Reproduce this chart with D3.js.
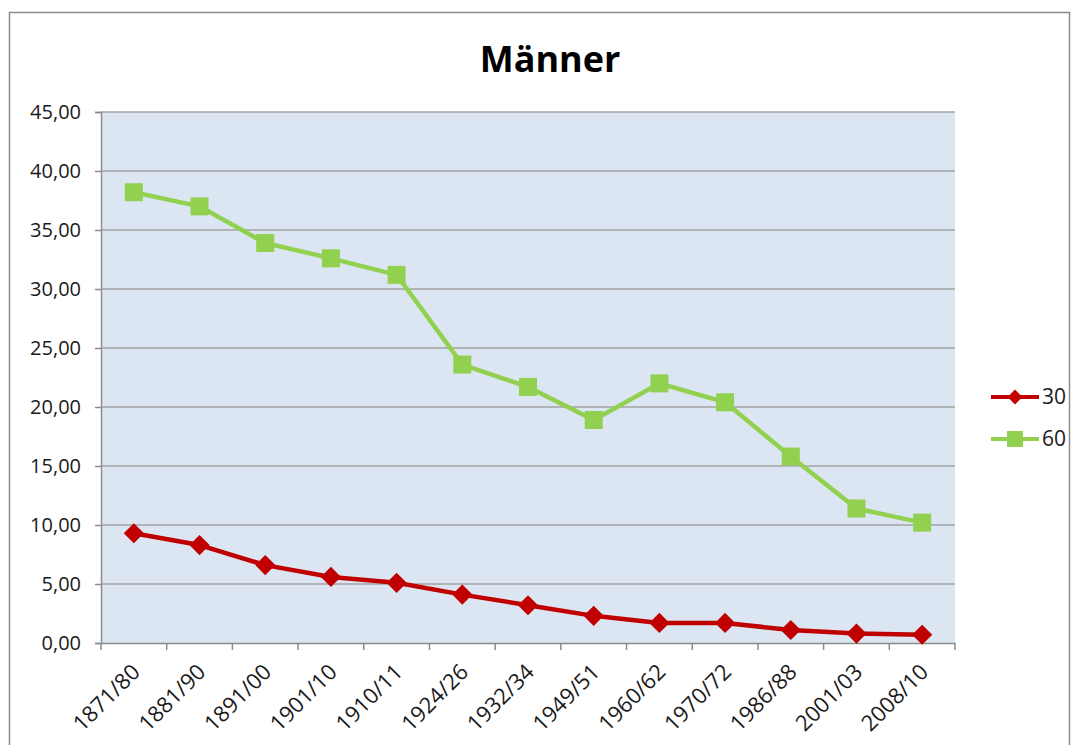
<!DOCTYPE html>
<html><head><meta charset="utf-8">
<script src="https://cdn.jsdelivr.net/npm/d3@7"></script>
<style>body{margin:0;background:#fff;}svg{display:block;font-family:"Open Sans","Liberation Sans",sans-serif;}</style>
</head><body>
<script>
const categories = ["1871/80","1881/90","1891/00","1901/10","1910/11","1924/26","1932/34","1949/51","1960/62","1970/72","1986/88","2001/03","2008/10"];
const series30 = [9.3,8.3,6.6,5.6,5.1,4.1,3.2,2.3,1.7,1.7,1.1,0.8,0.7];
const series60 = [38.2,37.0,33.9,32.6,31.2,23.6,21.7,18.9,22.0,20.4,15.8,11.4,10.2];
const yTicks = [0,5,10,15,20,25,30,35,40,45];
const seriesNames = ["30","60"];

const W=1078,H=745;
const FONT='"Open Sans","Liberation Sans",sans-serif';
const svg=d3.select("body").append("svg").attr("width",W).attr("height",H);
svg.append("rect").attr("x",9.5).attr("y",12.5).attr("width",1060).attr("height",740).attr("fill","#fff").attr("stroke","#8c8c8c").attr("stroke-width",1.5);

const L=101,R=955,T=112,B=643;
const x=d3.scaleBand().domain(categories).range([L,R]);
const y=d3.scaleLinear().domain([0,45]).range([B,T]);

svg.append("rect").attr("x",L).attr("y",T).attr("width",R-L).attr("height",B-T).attr("fill","#dce6f2");

// gridlines
svg.append("g").selectAll("line").data(yTicks.filter(d=>d>0)).join("line")
  .attr("x1",L).attr("x2",R).attr("y1",d=>y(d)).attr("y2",d=>y(d))
  .attr("stroke","#a3a3a3").attr("stroke-width",1.5);

// y axis
const fmt=d=>d3.format(".2f")(d).replace(".",",");
const ya=svg.append("g").attr("transform",`translate(${L},0)`)
  .call(d3.axisLeft(y).tickValues(yTicks).tickFormat(fmt).tickSizeOuter(0).tickSize(6).tickPadding(14));
ya.attr("font-size",null).attr("font-family",null);
ya.select(".domain").attr("stroke","#8c8c8c").attr("stroke-width",1.5);
ya.selectAll(".tick line").attr("stroke","#8c8c8c").attr("stroke-width",1.5);
ya.selectAll("text").style("font-size","20px").style("font-family",FONT).attr("fill","#1a1a1a");

// x axis
const xa=svg.append("g").attr("transform",`translate(0,${B})`)
  .call(d3.axisBottom(x).tickSize(0).tickSizeOuter(0));
xa.attr("font-size",null).attr("font-family",null);
xa.select(".domain").attr("stroke","#8c8c8c").attr("stroke-width",1.5);
xa.selectAll(".tick text").style("font-size","22px").style("font-family",FONT).attr("fill","#1a1a1a")
  .attr("text-anchor","end").attr("x",0).attr("y",0).attr("dy","0.35em")
  .attr("transform","translate(2,25) rotate(-45)");
const bounds=categories.map(c=>x(c)).concat([R]);
xa.append("g").selectAll("line").data(bounds).join("line")
  .attr("x1",d=>d).attr("x2",d=>d).attr("y1",0).attr("y2",7)
  .attr("stroke","#8c8c8c").attr("stroke-width",1.5);

const cx=c=>x(c)+x.bandwidth()/2;
const line=d3.line().x((d,i)=>cx(categories[i])).y(d=>y(d));

svg.append("path").datum(series60).attr("d",line).attr("fill","none").attr("stroke","#92d050").attr("stroke-width",4.5).attr("stroke-linejoin","round");
svg.append("g").selectAll("rect").data(series60).join("rect")
  .attr("x",(d,i)=>cx(categories[i])-9).attr("y",d=>y(d)-9).attr("width",18).attr("height",18).attr("fill","#92d050");

svg.append("path").datum(series30).attr("d",line).attr("fill","none").attr("stroke","#c00000").attr("stroke-width",4.5).attr("stroke-linejoin","round");
const diamond=d3.symbol().type(d3.symbolDiamond2).size(260);
svg.append("g").selectAll("path").data(series30).join("path")
  .attr("d",diamond).attr("transform",(d,i)=>`translate(${cx(categories[i])},${y(d)})`).attr("fill","#c00000");

// title
svg.append("text").attr("x",550).attr("y",72).attr("text-anchor","middle")
  .style("font-size","36px").attr("font-weight","bold").attr("fill","#000").text("Männer");

// legend
const leg=[{n:seriesNames[0],c:"#c00000",s:"d"},{n:seriesNames[1],c:"#92d050",s:"s"}];
leg.forEach((l,i)=>{
  const ly=397+i*42;
  svg.append("line").attr("x1",991).attr("x2",1039).attr("y1",ly).attr("y2",ly).attr("stroke",l.c).attr("stroke-width",4);
  if(l.s==="d") svg.append("path").attr("d",d3.symbol().type(d3.symbolDiamond2).size(140)).attr("transform",`translate(1015,${ly})`).attr("fill",l.c);
  else svg.append("rect").attr("x",1007).attr("y",ly-8).attr("width",16).attr("height",16).attr("fill",l.c);
  svg.append("text").attr("x",1042).attr("y",ly).attr("dy","0.35em").style("font-size","21px").attr("fill","#1a1a1a").text(l.n);
});
</script>
</body></html>
